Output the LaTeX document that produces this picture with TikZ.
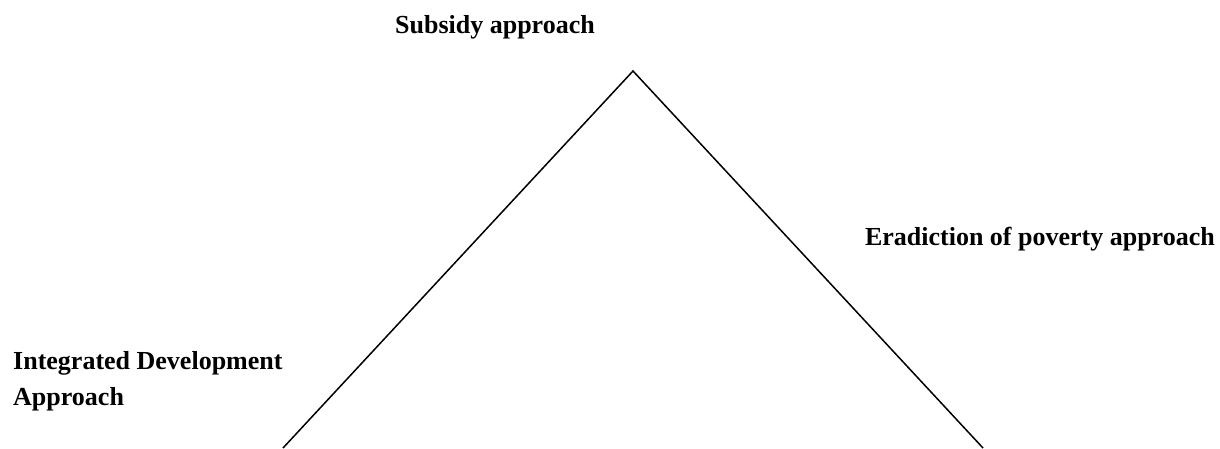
\documentclass[tikz,border=0pt]{standalone}
\usepackage{fontspec}
\setmainfont{Liberation Serif}
\begin{document}
\begin{tikzpicture}[x=1pt,y=-1pt,
  lbl/.style={inner sep=0pt,font=\fontsize{26}{36}\selectfont\bfseries,align=left},
  edge/.style={line width=1.5pt,line join=miter}]
\useasboundingbox (0,0) rectangle (1220,448);
\coordinate (apex) at (633,71);
\coordinate (bl) at (283,448);
\coordinate (br) at (983,448);
\draw[edge] (bl) -- (apex) -- (br);
\node[lbl,anchor=base east] (sub) at (595,33) {Subsidy approach};
\node[lbl,anchor=base east] (erad) at (1215,245) {Eradiction of poverty approach};
\node[lbl,anchor=base west] (integ) at (13,405) {Integrated Development\\Approach};
\end{tikzpicture}
\end{document}
